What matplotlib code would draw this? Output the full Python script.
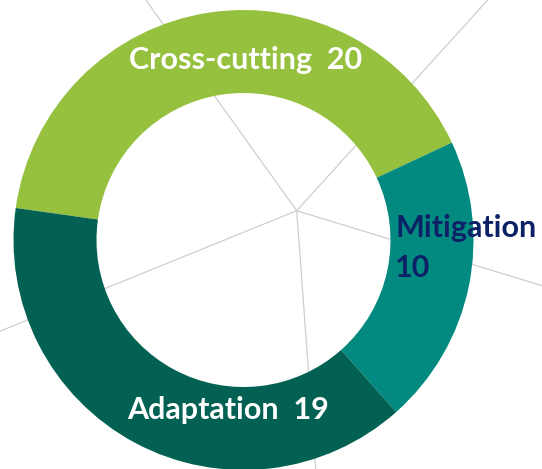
import numpy as np
import matplotlib.pyplot as plt

labels = ['Cross-cutting', 'Mitigation', 'Adaptation']
values = [20, 10, 19]
colors = ['#95c13e', '#028a80', '#026152']

# background spokes (degrees), like a radar grid behind the ring
spoke_angles = [125.6, 47.8, -17.0, -85.8, 202.1]

W, H = 542, 469
fig = plt.figure(figsize=(W / 100, H / 100), dpi=100)
ax = fig.add_axes([0, 0, 1, 1])

# spokes
hub = (296.7, H - 210.7)
for a in spoke_angles:
    t = np.deg2rad(a)
    ax.plot([hub[0], hub[0] + 600 * np.cos(t)], [hub[1], hub[1] + 600 * np.sin(t)],
            color='#cfcfcf', lw=0.9, zorder=1)

wedges, _ = ax.pie(values, colors=colors, startangle=172, counterclock=False,
                   center=(243.5, H - 240), radius=230,
                   wedgeprops=dict(width=83, edgecolor='none'))
for w in wedges:
    w.set_zorder(2)

ax.set_xlim(0, W)
ax.set_ylim(0, H)
ax.set_aspect('equal')
ax.axis('off')

fnt = dict(family=['Lato', 'DejaVu Sans'], weight='bold', fontsize=22, zorder=3)
ax.text(246, H - 60, f'{labels[0]}  {values[0]}', color='white', ha='center', va='center', **fnt)
ax.text(228, H - 410, f'{labels[2]}  {values[2]}', color='white', ha='center', va='center', **fnt)
ax.text(395, H - 228, f'{labels[1]}', color='#0d2266', ha='left', va='center', **fnt)
ax.text(395, H - 268, f'{values[1]}', color='#0d2266', ha='left', va='center', **fnt)

plt.savefig('out.png', dpi=100)
plt.close()
